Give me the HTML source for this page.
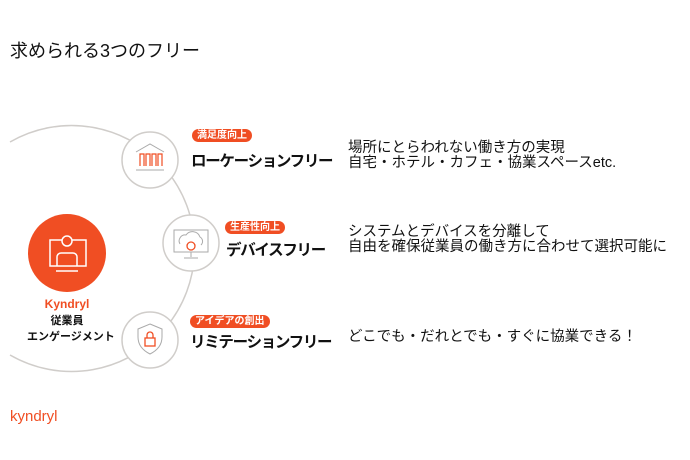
<!DOCTYPE html>
<html><head><meta charset="utf-8"><style>
body{margin:0;width:690px;height:460px;background:#fff;position:relative;overflow:hidden;font-family:"Liberation Sans","Noto Sans CJK JP",sans-serif;color:#111}
.a{position:absolute;white-space:nowrap}
.badge{position:absolute;background:#f04e23;color:#fff;font-weight:bold;font-size:10px;line-height:13px;padding:0 5px;border-radius:7px}
.t{position:absolute;font-weight:bold;font-size:15.5px;white-space:nowrap;letter-spacing:-1.3px}
.d{position:absolute;font-size:14.5px;line-height:15px;white-space:nowrap}
</style></head><body>
<div class="a" style="left:10px;top:37px;font-size:18px">求められる3つのフリー</div>
<svg width="690" height="460" style="position:absolute;left:0;top:0">
<path d="M10 142 A123 123 0 1 1 10 355" fill="none" stroke="#d0cdca" stroke-width="1.5"/>
<g fill="#fff" stroke="#d0cdca" stroke-width="1.5">
<circle cx="150" cy="160" r="28"/><circle cx="191" cy="243" r="28"/><circle cx="150" cy="340" r="28"/></g>
<circle cx="67" cy="253" r="39" fill="#f04e23"/>
<g fill="none" stroke="#fff" stroke-width="1.5"><rect x="50" y="240" width="36" height="26"/><circle cx="67" cy="241" r="5" fill="#f04e23"/><path d="M57 266 v-9 a4 4 0 0 1 4 -4 h12 a4 4 0 0 1 4 4 v9"/><path d="M56 271 h22"/></g>
<g fill="none" stroke="#aaa" stroke-width="1"><path d="M136 152 l14 -8 l14 8 M136 170 h28"/></g>
<g fill="none" stroke="#f04e23" stroke-width="1.2"><path d="M140 166 v-12 h4 v12 M146 166 v-12 h4 v12 M152 166 v-12 h4 v12 M158 166 v-12 h4 v12"/></g>
<g fill="none" stroke="#aaa" stroke-width="1"><rect x="174" y="230" width="34" height="22"/><path d="M191 252 v5 M184 258 h14"/><path d="M180 244 a6 6 0 0 1 6 -9 a8 8 0 0 1 14 2 a5 5 0 0 1 1 8"/></g>
<circle cx="191" cy="246" r="4" fill="none" stroke="#f04e23" stroke-width="1.3"/>
<path d="M150 324 l12 5 v8 c0 9 -6 14 -12 17 c-6 -3 -12 -8 -12 -17 v-8 z" fill="none" stroke="#aaa" stroke-width="1"/>
<g fill="none" stroke="#f04e23" stroke-width="1.3"><rect x="145" y="338" width="10" height="8"/><path d="M147 338 v-3 a3 3 0 0 1 6 0 v3"/></g>
</svg>
<div class="a" style="left:27px;top:296px;width:80px;text-align:center;font-size:11px;font-weight:bold;line-height:16px"><span style="color:#f04e23;font-size:12px">Kyndryl</span><br>従業員<br>エンゲージメント</div>
<div class="badge" style="left:192px;top:129px">満足度向上</div>
<div class="t" style="left:191px;top:149px">ローケーションフリー</div>
<div class="badge" style="left:225px;top:221px">生産性向上</div>
<div class="t" style="left:226px;top:238px">デバイスフリー</div>
<div class="badge" style="left:190px;top:315px">アイデアの創出</div>
<div class="t" style="left:190px;top:330px">リミテーションフリー</div>
<div class="d" style="left:348px;top:141px">場所にとらわれない働き方の実現<br>自宅・ホテル・カフェ・協業スペースetc.</div>
<div class="d" style="left:348px;top:225px">システムとデバイスを分離して<br>自由を確保従業員の働き方に合わせて選択可能に</div>
<div class="d" style="left:348px;top:330px">どこでも・だれとでも・すぐに協業できる！</div>
<div class="a" style="left:10px;top:408px;color:#f04e23;font-size:15px">kyndryl</div>
</body></html>
